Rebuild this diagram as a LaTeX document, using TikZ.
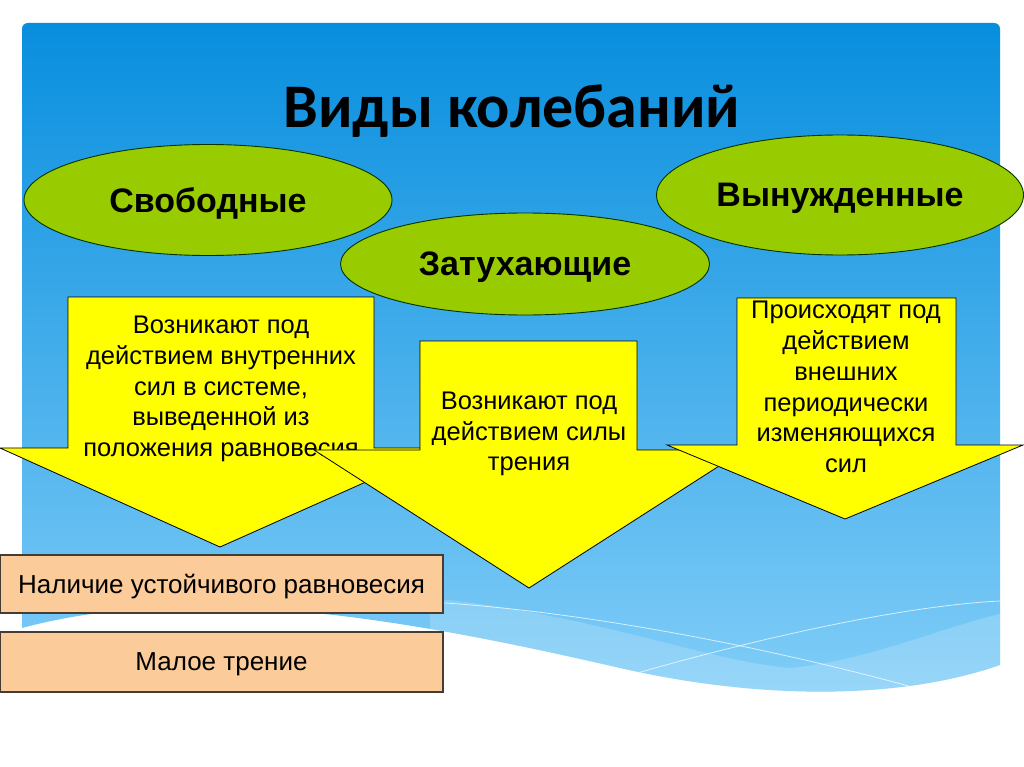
\documentclass[tikz,border=0pt]{standalone}
\usepackage{fontspec}
\setmainfont{Liberation Sans}
\newfontfamily\titlefont{Carlito}
\usetikzlibrary{shapes.geometric}
\definecolor{panelTop}{RGB}{8,142,222}
\definecolor{panelBot}{RGB}{130,206,248}
\definecolor{ellGreen}{RGB}{153,204,0}
\definecolor{arrowYellow}{RGB}{255,255,0}
\definecolor{peach}{RGB}{251,203,153}
\definecolor{boxEdge}{RGB}{70,60,50}
\tikzset{
  oval/.style={ellipse, draw=black!80!green, line width=0.9pt, fill=ellGreen, inner sep=0pt,
    text depth=0pt, font=\bfseries\fontsize{34}{40}\selectfont},
  bigarrow/.style={draw=black, line width=0.8pt, fill=arrowYellow, line join=miter},
  arrowtext/.style={align=center, font=\fontsize{25.5}{30.8}\selectfont},
  condbox/.style={draw=boxEdge, line width=1.3pt, fill=peach, minimum width=443pt,
    inner sep=0pt, text depth=0pt, font=\fontsize{26}{30}\selectfont},
  waveline/.style={white, opacity=0.7, line width=0.8pt}
}
\begin{document}
\begin{tikzpicture}[x=1pt,y=-1pt]
\useasboundingbox (0,0) rectangle (1024,767);
\fill[white] (0,0) rectangle (1024,767);
% panel
\def\panelpath{(22,628) -- (22,29) .. controls (22,25.5) and (24.5,23) .. (28,23) -- (994,23) .. controls (997.5,23) and (1000,25.5) .. (1000,29) -- (1000,665) .. controls (900,700) and (760,700) .. (620,668) .. controls (420,622) and (200,580) .. (22,628) -- cycle}
\shade[top color=panelTop, bottom color=panelBot] \panelpath;
\begin{scope}
\clip \panelpath;
\fill[white,opacity=0.18] (430,598) .. controls (600,615) and (700,660) .. (790,668) .. controls (870,660) and (940,628) .. (1000,614) -- (1000,767) -- (430,767) -- cycle;
\draw[waveline] (430,602) .. controls (600,612) and (800,655) .. (930,692);
\draw[waveline] (620,678) .. controls (750,640) and (900,606) .. (1000,601);
\end{scope}
% title
\node[anchor=base, font=\titlefont\bfseries\fontsize{62}{68}\selectfont] (title) at (512,128) {Виды колебаний};
% ellipses
\node[oval, minimum width=368pt, minimum height=111pt] (free) at (208,200) {Свободные};
\node[oval, minimum width=367pt, minimum height=120pt] (forced) at (840,195) {Вынужденные};
\node[oval, minimum width=369pt, minimum height=102pt] (damped) at (525,264) {Затухающие};
% arrows
\draw[bigarrow] (68,297) -- (374,297) -- (374,448) -- (442,448) -- (220,547) -- (0,448) -- (68,448) -- cycle;
\node[arrowtext] (t1) at (221,389) {Возникают под\\действием внутренних\\сил в системе,\\выведенной из\\положения равновесия};
\draw[bigarrow] (420,341) -- (637,341) -- (637,450) -- (744,450) -- (529,588) -- (314,450) -- (420,450) -- cycle;
\node[arrowtext] (t2) at (529,434) {Возникают под\\действием силы\\трения};
\draw[bigarrow] (737,298) -- (956,298) -- (956,445) -- (1023,445) -- (845,519) -- (667,445) -- (737,445) -- cycle;
\node[arrowtext] (t3) at (846,387) {Происходят под\\действием\\внешних\\периодически\\изменяющихся\\сил};
% condition boxes
\node[condbox, minimum height=58pt] (c1) at (221.5,584) {Наличие устойчивого равновесия};
\node[condbox, minimum height=60pt] (c2) at (221.5,662) {Малое трение};
\end{tikzpicture}
\end{document}
